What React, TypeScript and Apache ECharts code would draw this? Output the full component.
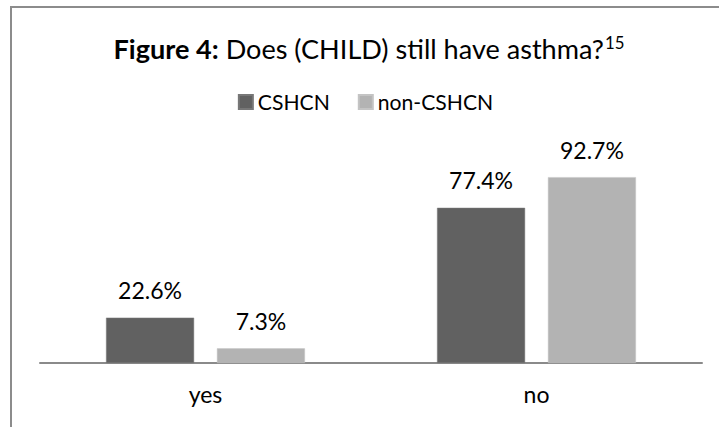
import React, { useEffect, useRef } from "react";
import * as echarts from "echarts";

const categories = ["yes", "no"];
const seriesNames = ["CSHCN", "non-CSHCN"];
const cshcnValues = [22.6, 77.4];
const nonCshcnValues = [7.3, 92.7];
const titleBold = "Figure 4:";
const titleRest = " Does (CHILD) still have asthma?";
const titleSup = "15";

const FAMILY = "Lato";
const FONT = "Lato, 'Open Sans', 'DejaVu Sans', sans-serif";

function measure(text: string, size: number, weight = "normal"): number {
  const c = document.createElement("canvas").getContext("2d");
  if (!c) return text.length * size * 0.5;
  c.font = `${weight} ${size}px ${FAMILY}, sans-serif`;
  return c.measureText(text).width;
}

function fit(text: string, target: number, weight = "normal"): number {
  return (100 * target) / measure(text, 100, weight);
}

export default function App() {
  const ref = useRef<HTMLDivElement>(null);
  useEffect(() => {
    if (!ref.current) return;
    const chart = echarts.init(ref.current, null, { renderer: "svg" });

    const labelSize = Math.min(26, Math.max(18, fit("22.6%", 64)));
    const legendSize = Math.min(26, Math.max(18, fit("CSHCN", 72)));
    const supRatio = 0.62;
    const titleW100 =
      measure(titleBold, 100, "bold") + measure(titleRest, 100) + measure(titleSup, 100 * supRatio);
    const titleSize = Math.min(30, Math.max(22, (100 * 510) / titleW100));
    const supSize = titleSize * supRatio;

    const titleW =
      measure(titleBold, titleSize, "bold") +
      measure(titleRest, titleSize) +
      measure(titleSup, supSize) +
      1;
    const titleCenter = 369;

    const iconW = 14;
    const legendGap = 28;
    const legendW =
      iconW + 5 + measure(seriesNames[0], legendSize) + legendGap + iconW + 5 + measure(seriesNames[1], legendSize);
    const legendCenter = 364.5;

    const labelCfg = {
      show: true,
      position: "top",
      distance: 16,
      formatter: (p: any) => p.value.toFixed(1) + "%",
      color: "#000",
      fontFamily: FONT,
      fontSize: labelSize,
    };

    chart.setOption({
      animation: false,
      backgroundColor: "#fff",
      textStyle: { fontFamily: FONT },
      title: {
        text: `{b|${titleBold}}${titleRest}{sup|${titleSup}}`,
        left: titleCenter - titleW / 2 - 5,
        top: 28.5,
        textStyle: {
          fontFamily: FONT,
          fontSize: titleSize,
          fontWeight: "normal",
          color: "#000",
          rich: {
            b: { fontFamily: FONT, fontSize: titleSize, fontWeight: "bold", color: "#000" },
            sup: { fontFamily: FONT, fontSize: supSize, color: "#000", padding: [0, 0, 12, 1] },
          },
        },
      },
      legend: {
        data: seriesNames,
        top: 86.5,
        left: legendCenter - legendW / 2 - 5,
        itemWidth: iconW,
        itemHeight: iconW,
        itemGap: legendGap,
        icon: "rect",
        textStyle: { fontFamily: FONT, fontSize: legendSize, color: "#000" },
      },
      grid: { left: 40, right: 17, top: 162.5, bottom: 427 - 363, containLabel: false },
      xAxis: {
        type: "category",
        data: categories,
        axisLine: { lineStyle: { color: "#8a8a8a", width: 2 } },
        axisTick: { show: false },
        axisLabel: { fontFamily: FONT, fontSize: labelSize, color: "#000", margin: 19 },
      },
      yAxis: {
        type: "value",
        min: 0,
        max: 100,
        show: false,
        splitLine: { show: false },
      },
      series: [
        {
          name: seriesNames[0],
          type: "bar",
          data: cshcnValues,
          barWidth: 88,
          barGap: "26%",
          itemStyle: { color: "#616161", borderColor: "#777", borderWidth: 0.5 },
          label: labelCfg,
        },
        {
          name: seriesNames[1],
          type: "bar",
          data: nonCshcnValues,
          barWidth: 88,
          itemStyle: { color: "#b3b3b3", borderColor: "#c4c4c4", borderWidth: 0.5 },
          label: labelCfg,
        },
      ],
      graphic: [
        {
          type: "rect",
          shape: { x: 11, y: 7, width: 900, height: 600 },
          style: { fill: "none", stroke: "#8c8c8c", lineWidth: 2 },
          silent: true,
          z: -1,
        },
      ],
    });
    return () => chart.dispose();
  }, []);
  return (
    <div
      ref={ref}
      style={{ position: "absolute", left: 0, top: 0, width: 719, height: 427 }}
    />
  );
}
